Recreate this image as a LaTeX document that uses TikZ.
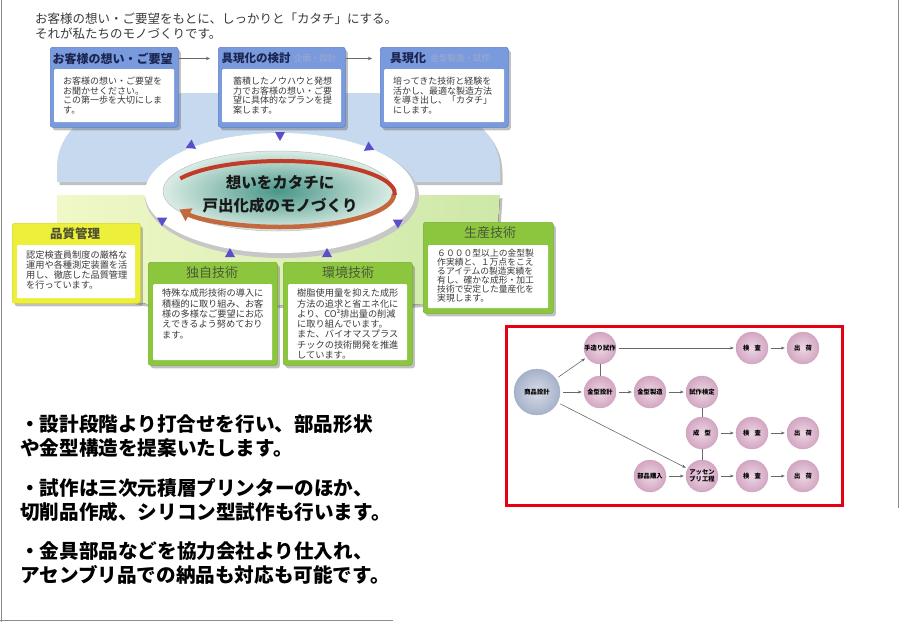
\documentclass[tikz,border=0pt]{standalone}
\usepackage{fontspec}
\setmainfont{Noto Sans CJK JP}
\usetikzlibrary{shadows,arrows.meta}
\definecolor{boxblue}{RGB}{122,154,222}
\definecolor{boxblueD}{RGB}{95,126,200}
\definecolor{navy}{RGB}{27,37,80}
\definecolor{subgray}{RGB}{160,172,204}
\definecolor{ringblue}{RGB}{198,217,239}
\definecolor{greenL}{RGB}{240,248,200}
\definecolor{greenR}{RGB}{205,232,168}
\definecolor{qyellow}{RGB}{236,240,58}
\definecolor{qyellowD}{RGB}{214,218,40}
\definecolor{gbox}{RGB}{140,198,63}
\definecolor{gboxD}{RGB}{118,176,44}
\definecolor{gtitle}{RGB}{75,88,58}
\definecolor{ytitle}{RGB}{80,80,50}
\definecolor{tri}{RGB}{90,79,200}
\definecolor{arcred}{RGB}{194,58,40}
\definecolor{arccopper}{RGB}{196,104,62}
\definecolor{tealin}{RGB}{72,150,136}
\definecolor{tealout}{RGB}{218,236,228}
\definecolor{sphpink}{RGB}{212,166,194}
\definecolor{sphblue}{RGB}{166,178,202}
\definecolor{bordergray}{RGB}{140,140,140}
\definecolor{txtgray}{RGB}{58,58,58}
\definecolor{linegray}{RGB}{105,105,105}
\definecolor{framered}{RGB}{230,0,18}
\newcommand\fsz[2]{\fontsize{#1}{#2}\selectfont}
\begin{document}
\begin{tikzpicture}[x=1pt,y=-1pt,
  shadowed/.style={drop shadow={shadow xshift=2.5pt,shadow yshift=-3pt,opacity=0.35,fill=black!70}},
  bx/.style={rectangle,rounded corners=2.5pt,inner sep=0pt,anchor=north west,shadowed},
  bluebox/.style={bx,fill=boxblue,draw=boxblueD,line width=0.6pt},
  ybox/.style={bx,fill=qyellow,draw=qyellowD,line width=0.6pt},
  gbx/.style={bx,fill=gbox,draw=gboxD,line width=0.6pt},
  bodyrect/.style={rectangle,fill=white,inner sep=0pt,anchor=north west,rounded corners=1pt},
  bodytxt/.style={inner sep=0pt,anchor=north west,align=left,text=txtgray},
  tophdr/.style={inner sep=0pt,anchor=west,text=navy,font=\bfseries\fsz{12}{14}},
  subhdr/.style={inner sep=0pt,anchor=west,text=subgray,font=\fsz{8.5}{10}},
  lowhdr/.style={inner sep=0pt,font=\fsz{13}{15}},
  toparrow/.style={draw=linegray,line width=0.7pt,-{Stealth[length=4pt,width=3.5pt]}},
  tri/.style={fill=tri},
  sph/.style={circle,minimum size=32pt,inner sep=0pt,shading=radial,inner color=white!55!sphpink,outer color=sphpink,draw=sphpink!85!gray,line width=0.3pt,align=center,font=\bfseries\fsz{6.3}{7}},
  bigsph/.style={sph,minimum size=46pt,inner color=white!55!sphblue,outer color=sphblue,draw=sphblue!85!gray},
  flowarrow/.style={draw=linegray,line width=0.6pt,-{Stealth[length=4pt,width=3pt]},shorten >=2pt,shorten <=3pt},
  flowline/.style={draw=linegray,line width=0.6pt},
  bullettxt/.style={bodytxt,text=black,font=\bfseries\fsz{19.6}{24.5}}
]
\useasboundingbox (0,0) rectangle (900,622);
\fill[white] (0,0) rectangle (900,622);

% page border lines
\draw[bordergray,line width=1.5pt] (1.5,0) -- (1.5,622);
\draw[bordergray,line width=1.2pt] (0,620.5) -- (393,620.5);
\draw[bordergray,line width=1.2pt] (898.5,0) -- (898.5,508);

% heading
\node[inner sep=0pt,anchor=west,text=txtgray,font=\fsz{12.5}{14}] (head1) at (35,19) {お客様の想い・ご要望をもとに、しっかりと「カタチ」にする。};
\node[inner sep=0pt,anchor=west,text=txtgray,font=\fsz{12.5}{14}] (head2) at (35,34) {それが私たちのモノづくりです。};

% background ring halves
\fill[ringblue,shadowed] (57,182) -- (57,168) .. controls (57,120) and (110,94) .. (190,93) -- (370,93) .. controls (450,94) and (500,125) .. (500,170) -- (500,182) -- cycle;
\fill[left color=greenL,right color=greenR,shadowed] (57,195) -- (500,195) -- (497,240) .. controls (490,290) and (450,305) .. (400,305) -- (165,305) .. controls (100,305) and (57,262) .. (57,222) -- cycle;

% white ring
\fill[black!22] (282,196) ellipse [x radius=137, y radius=62];
\fill[white] (280,193) ellipse [x radius=135, y radius=60];

% central ellipse
\shade[inner color=tealin,outer color=tealout] (278,191) ellipse [x radius=115, y radius=40];
\draw[black!25,line width=0.5pt] (278,191) ellipse [x radius=115, y radius=40];

% circular arrow
\draw[arccopper,line width=4.5pt,-{Triangle[length=11pt,width=14pt]}] (394,194) arc[start angle=360,end angle=512,x radius=114,y radius=33];
\draw[arcred,line width=4pt] (180.3,178.5) arc[start angle=208,end angle=362,x radius=114,y radius=33];

\node[align=center,inner sep=0pt,text=black!90,font=\bfseries\fsz{15.5}{23}] (core) at (280,194) {想いをカタチに\\戸出化成のモノづくり};

% purple triangles
\fill[tri,shift={(280,136)},rotate=-90] (5,0) -- (-4,5) -- (-4,-5) -- cycle;
\fill[tri,shift={(192,146)},rotate=-35] (5,0) -- (-4,5) -- (-4,-5) -- cycle;
\fill[tri,shift={(368,148)},rotate=-145] (5,0) -- (-4,5) -- (-4,-5) -- cycle;
\fill[tri,shift={(163,220)},rotate=30] (5,0) -- (-4,5) -- (-4,-5) -- cycle;
\fill[tri,shift={(397,222)},rotate=150] (5,0) -- (-4,5) -- (-4,-5) -- cycle;
\fill[tri,shift={(230,253)},rotate=90] (5,0) -- (-4,5) -- (-4,-5) -- cycle;
\fill[tri,shift={(327,253)},rotate=90] (5,0) -- (-4,5) -- (-4,-5) -- cycle;

% top boxes
\node[bluebox,minimum width=128pt,minimum height=80pt] (b1) at (50,47) {};
\node[bodyrect,minimum width=120pt,minimum height=53pt] (b1body) at (54,69) {};
\node[tophdr] (h1) at (52.5,58.5) {お客様の想い・ご要望};
\node[bodytxt,font=\fsz{9}{9.7}] (t1) at (63,76.8) {お客様の想い・ご要望を\\お聞かせください。\\この第一歩を大切にしま\\す。};

\node[bluebox,minimum width=127pt,minimum height=80pt] (b2) at (218,47) {};
\node[bodyrect,minimum width=119pt,minimum height=53pt] (b2body) at (222,69) {};
\node[tophdr,font=\bfseries\fsz{11.5}{14}] (h2) at (221.5,58.5) {具現化の検討};
\node[subhdr] (h2s) at ([xshift=3pt]h2.east) {企画・設計};
\node[bodytxt,font=\fsz{9}{9.7}] (t2) at (233,76.8) {蓄積したノウハウと発想\\力でお客様の想い・ご要\\望に具体的なプランを提\\案します。};

\node[bluebox,minimum width=128pt,minimum height=80pt] (b3) at (380,47) {};
\node[bodyrect,minimum width=120pt,minimum height=53pt] (b3body) at (384,69) {};
\node[tophdr,font=\bfseries\fsz{12}{14}] (h3) at (390,58.5) {具現化};
\node[subhdr] (h3s) at ([xshift=4pt]h3.east) {金型製造・試作};
\node[bodytxt,font=\fsz{9}{9.7}] (t3) at (393,76.8) {培ってきた技術と経験を\\活かし、最適な製造方法\\を導き出し、「カタチ」\\にします。};

\draw[toparrow,shorten >=8pt] (b1.east |- h1) -- (b2.west |- h1);
\draw[toparrow,shorten >=8pt] (b2.east |- h2) -- (b3.west |- h2);

% lower boxes
\node[ybox,minimum width=128pt,minimum height=80pt] (q) at (12,223) {};
\node[bodyrect,minimum width=118pt,minimum height=53pt] (qbody) at (17,245) {};
\node[lowhdr,text=ytitle,font=\bfseries\fsz{12.5}{15}] (qh) at (75,234) {品質管理};
\node[bodytxt,font=\fsz{9.2}{10}] (qt) at (26,250.8) {認定検査員制度の厳格な\\運用や各種測定装置を活\\用し、徹底した品質管理\\を行っています。};

\node[gbx,minimum width=129pt,minimum height=103pt] (d) at (148,262) {};
\node[bodyrect,minimum width=119pt,minimum height=76pt] (dbody) at (153,284) {};
\node[lowhdr,text=gtitle] (dh) at (212,273) {独自技術};
\node[bodytxt,font=\fsz{9.2}{10.4}] (dt) at (162,288.8) {特殊な成形技術の導入に\\積極的に取り組み、お客\\様の多様なご要望にお応\\えできるよう努めており\\ます。};

\node[gbx,minimum width=129pt,minimum height=103pt] (k) at (283,262) {};
\node[bodyrect,minimum width=119pt,minimum height=76pt] (kbody) at (288,284) {};
\node[lowhdr,text=gtitle] (kh) at (348,273) {環境技術};
\node[bodytxt,font=\fsz{9.2}{10.3}] (kt) at (297,288.8) {樹脂使用量を抑えた成形\\方法の追求と省エネ化に\\より、CO²排出量の削減\\に取り組んでいます。\\また、バイオマスプラス\\チックの技術開発を推進\\しています。};

\node[gbx,minimum width=130pt,minimum height=91pt] (s) at (423,222) {};
\node[bodyrect,minimum width=120pt,minimum height=63pt] (sbody) at (428,245) {};
\node[lowhdr,text=gtitle] (sh) at (490,233) {生産技術};
\node[bodytxt,font=\fsz{8.8}{9}] (st) at (437,249) {６０００型以上の金型製\\作実績と、１万点をこえ\\るアイテムの製造実績を\\有し、確かな成形・加工\\技術で安定した量産化を\\実現します。};

% bottom bullet text
\node[bullettxt] (p1) at (20,414) {・設計段階より打合せを行い、部品形状\\や金型構造を提案いたします。};
\node[bullettxt] (p2) at (20,478) {・試作は三次元積層プリンターのほか、\\切削品作成、シリコン型試作も行います。};
\node[bullettxt] (p3) at (20,541) {・金具部品などを協力会社より仕入れ、\\アセンブリ品での納品も対応も可能です。};

% flow diagram
\draw[framered,line width=3pt] (506,326) rectangle (842,505);
\node[bigsph] (s0) at (537,392) {商品設計};
\node[sph] (s1) at (600,348) {手造り試作};
\node[sph] (s2) at (600,392) {金型設計};
\node[sph] (s3) at (650,392) {金型製造};
\node[sph] (s4) at (702,392) {試作検定};
\node[sph] (s5) at (702,433) {成\hspace{0.8em}型};
\node[sph] (s6) at (702,476) {アッセン\\ブリ工程};
\node[sph] (s7) at (650,476) {部品購入};
\node[sph] (k1) at (752,348) {検\hspace{0.8em}査};
\node[sph] (o1) at (803,348) {出\hspace{0.8em}荷};
\node[sph] (k2) at (752,433) {検\hspace{0.8em}査};
\node[sph] (o2) at (803,433) {出\hspace{0.8em}荷};
\node[sph] (k3) at (752,476) {検\hspace{0.8em}査};
\node[sph] (o3) at (803,476) {出\hspace{0.8em}荷};

\draw[flowarrow] (s0) -- (s1);
\draw[flowarrow] (s0) -- (s2);
\draw[flowarrow] (s0) -- (s6);
\draw[flowline] (s1) -- (s2);
\draw[flowarrow] (s1) -- (k1);
\draw[flowarrow] (k1) -- (o1);
\draw[flowarrow] (s2) -- (s3);
\draw[flowarrow] (s3) -- (s4);
\draw[flowline] (s4) -- (s5);
\draw[flowline] (s5) -- (s6);
\draw[flowarrow] (s5) -- (k2);
\draw[flowarrow] (k2) -- (o2);
\draw[flowarrow] (s7) -- (s6);
\draw[flowarrow] (s6) -- (k3);
\draw[flowarrow] (k3) -- (o3);
\end{tikzpicture}
\end{document}
